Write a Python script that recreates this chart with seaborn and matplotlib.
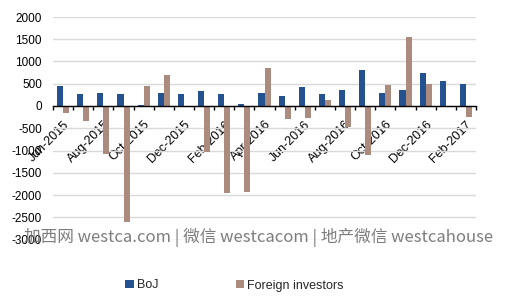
import matplotlib
matplotlib.use('Agg')
import matplotlib.pyplot as plt
import seaborn as sns
import pandas as pd
from matplotlib.patches import Patch

months = ['Jun-2015', 'Jul-2015', 'Aug-2015', 'Sep-2015', 'Oct-2015', 'Nov-2015',
          'Dec-2015', 'Jan-2016', 'Feb-2016', 'Mar-2016', 'Apr-2016', 'May-2016',
          'Jun-2016', 'Jul-2016', 'Aug-2016', 'Sep-2016', 'Oct-2016', 'Nov-2016',
          'Dec-2016', 'Jan-2017', 'Feb-2017']
boj = [450, 260, 290, 260, 15, 290, 260, 330, 260, 55, 300, 230, 430, 260, 365,
       800, 300, 365, 740, 560, 500]
foreign = [-160, -330, -1070, -2600, 460, 690, 0, -1040, -1960, -1930, 865, -300,
           -260, 135, -465, -1100, 465, 1540, 500, 0, -240]
series = ['BoJ', 'Foreign investors']
colors = ['#245291', '#AB8B7D']
yticks = list(range(-3000, 2001, 500))
watermark = '加西网 westca.com | 微信 westcacom | 地产微信 westcahouse'

df = pd.DataFrame({
    'month': months * 2,
    'series': [series[0]] * len(months) + [series[1]] * len(months),
    'value': boj + foreign,
})

sns.set_theme(style='white')
plt.rcParams['font.family'] = ['Liberation Sans', 'DejaVu Sans']

W, H = 517, 301
fig = plt.figure(figsize=(W / 100, H / 100), dpi=100)
ax = fig.add_axes([53 / W, 1 - 239.5 / H, (476 - 53) / W, (239.5 - 17) / H])
sns.barplot(data=df, x='month', y='value', hue='series', palette=colors,
            width=0.6, ax=ax, legend=False, saturation=1, linewidth=0)
ax.set_ylim(-3000, 2000)
ax.set_xlim(-0.5, len(months) - 0.5)
ax.set_yticks(yticks)
ax.set_yticklabels([str(v) for v in yticks])
ax.yaxis.grid(True, color='#D9D9D9', linewidth=1)
ax.xaxis.grid(False)
ax.set_axisbelow(True)
for s in ['top', 'right', 'left']:
    ax.spines[s].set_visible(False)
ax.spines['bottom'].set_position(('data', 0))
ax.spines['bottom'].set_color('black')
ax.spines['bottom'].set_linewidth(1)
ax.spines['bottom'].set_zorder(3)
idx = list(range(0, len(months), 2))
ax.set_xticks(idx)
ax.set_xticklabels([months[i] for i in idx], rotation=45, ha='right',
                   rotation_mode='anchor')
ax.tick_params(axis='x', which='major', length=0, pad=9, labelsize=9,
               labelcolor='black')
ax.set_xticks([i - 0.5 for i in range(len(months) + 1)], minor=True)
ax.tick_params(axis='x', which='minor', length=3, width=1, direction='out',
               color='black', bottom=True)
ax.tick_params(axis='y', length=0, pad=8, labelsize=8.5, labelcolor='black')
ax.set_xlabel('')
ax.set_ylabel('')

fig.text(0.501, 1 - 237 / H, watermark, ha='center', va='center',
         color='#6f6f6f', alpha=0.9, fontsize=12,
         family=['Noto Sans CJK SC', 'DejaVu Sans'])

handles = [Patch(facecolor=c, edgecolor='none', label=s) for s, c in zip(series, colors)]
fig.legend(handles=handles, loc='center', bbox_to_anchor=(0.4536, 1 - 285.5 / H),
           ncol=2, frameon=False, fontsize=9, handlelength=0.68,
           handleheight=0.68, handletextpad=0.25, columnspacing=6.2,
           borderpad=0, borderaxespad=0)

fig.savefig('out.png', dpi=100)
